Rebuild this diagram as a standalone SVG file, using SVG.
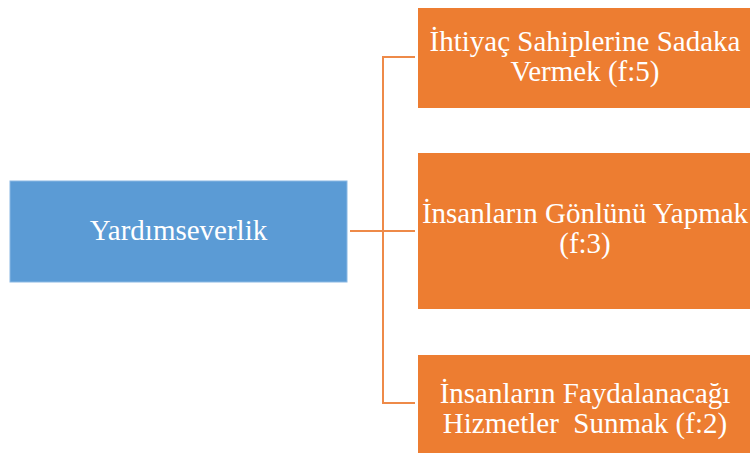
<svg xmlns="http://www.w3.org/2000/svg" width="750" height="453" viewBox="0 0 750 453">
<style>
.t{font-family:"Liberation Serif","Times New Roman",serif;font-size:29px;fill:#ffffff;text-anchor:middle;white-space:pre}
.c{fill:none;stroke:#EE8A48;stroke-width:2}
</style>
<rect width="750" height="453" fill="#ffffff"/>
<g id="connectors">
<path class="c" d="M350 231H415"/>
<path class="c" d="M415 57H383V403H415"/>
</g>
<g id="root">
<rect x="10" y="181" width="337" height="101" fill="#5B9BD5" stroke="#8AB8E3" stroke-width="1"/>
<text class="t" x="178.5" y="240">Yardımseverlik</text>
</g>
<g id="n1">
<rect x="418" y="8" width="336" height="100" fill="#ED7D31"/>
<text class="t" x="585" y="51">İhtiyaç Sahiplerine Sadaka</text>
<text class="t" x="585" y="81">Vermek (f:5)</text>
</g>
<g id="n2">
<rect x="418" y="153" width="336" height="156" fill="#ED7D31"/>
<text class="t" x="585" y="223">İnsanların Gönlünü Yapmak</text>
<text class="t" x="585" y="253">(f:3)</text>
</g>
<g id="n3">
<rect x="418" y="355" width="336" height="100" fill="#ED7D31"/>
<text class="t" x="585" y="403">İnsanların Faydalanacağı</text>
<text class="t" x="585" y="433" xml:space="preserve">Hizmetler  Sunmak (f:2)</text>
</g>
</svg>
